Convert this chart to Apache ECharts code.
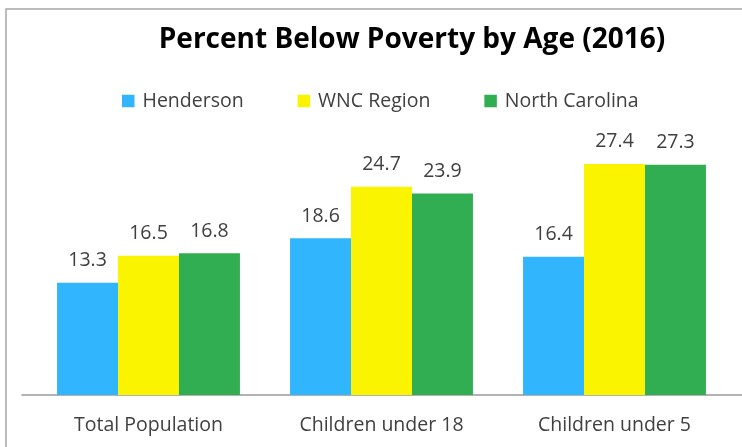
<!DOCTYPE html>
<html>
<head>
<meta charset="utf-8">
<script src="https://cdn.jsdelivr.net/npm/echarts@6/dist/echarts.min.js"></script>
<style>
  html, body { margin: 0; padding: 0; background: #fff; }
  #chart { width: 742px; height: 447px; }
</style>
</head>
<body>
<div id="chart"></div>
<script>
// Poverty rates by age group (percent), 2016
const categories = ['Total Population', 'Children under 18', 'Children under 5'];
const henderson = [13.3, 18.6, 16.4];
const wncRegion = [16.5, 24.7, 27.4];
const northCarolina = [16.8, 23.9, 27.3];

const seriesNames = ['Henderson', 'WNC Region', 'North Carolina'];
const seriesColors = ['#31b6fd', '#faf400', '#32ae52'];
const seriesValues = [henderson, wncRegion, northCarolina];

const textColor = '#404040';
const fontFamily = '"Open Sans", "Noto Sans", sans-serif';

const chart = echarts.init(document.getElementById('chart'));

chart.setOption({
  backgroundColor: '#fff',
  animation: false,
  textStyle: { fontFamily: fontFamily },
  graphic: [{
    type: 'rect',
    shape: { x: 6, y: 9, width: 800, height: 500 },
    style: { fill: 'none', stroke: '#a6a6a6', lineWidth: 1.5 },
    silent: true
  }],
  title: {
    text: 'Percent Below Poverty by Age (2016)',
    left: 407,
    textAlign: 'center',
    top: 21,
    textStyle: {
      fontFamily: fontFamily,
      fontSize: 28,
      fontWeight: 'bold',
      color: '#000'
    }
  },
  legend: {
    top: 86,
    left: 117,
    itemWidth: 12.5,
    itemHeight: 12.5,
    itemGap: 54,
    icon: 'rect',
    textStyle: { fontSize: 19.5, color: textColor, fontFamily: fontFamily, padding: [0, 0, 0, 3] },
    data: seriesNames
  },
  grid: [
    { left: 32, right: 11, top: 142, bottom: 52 },
    { left: 22, right: 0, top: 142, bottom: 52 }
  ],
  xAxis: [{
    type: 'category',
    gridIndex: 0,
    data: categories,
    axisLine: { show: false },
    axisTick: { show: false },
    axisLabel: { fontSize: 19.5, color: textColor, margin: 20, fontFamily: fontFamily }
  }, {
    type: 'value',
    gridIndex: 1,
    min: 0, max: 1,
    axisLine: { show: true, onZero: false, lineStyle: { color: '#999', width: 1.5 } },
    axisTick: { show: false },
    axisLabel: { show: false },
    splitLine: { show: false }
  }],
  yAxis: [{
    type: 'value',
    gridIndex: 0,
    min: 0,
    max: 30,
    show: false
  }, {
    type: 'value',
    gridIndex: 1,
    min: 0, max: 1,
    show: false
  }],
  series: seriesNames.map((name, i) => ({
    name: name,
    type: 'bar',
    xAxisIndex: 0,
    yAxisIndex: 0,
    data: seriesValues[i],
    itemStyle: { color: seriesColors[i] },
    barGap: '0%',
    barCategoryGap: '21.5%',
    label: {
      show: true,
      position: 'top',
      distance: 12,
      fontSize: 19.5,
      color: textColor,
      fontFamily: fontFamily,
      formatter: p => p.value.toFixed(1)
    }
  }))
});
</script>
</body>
</html>
